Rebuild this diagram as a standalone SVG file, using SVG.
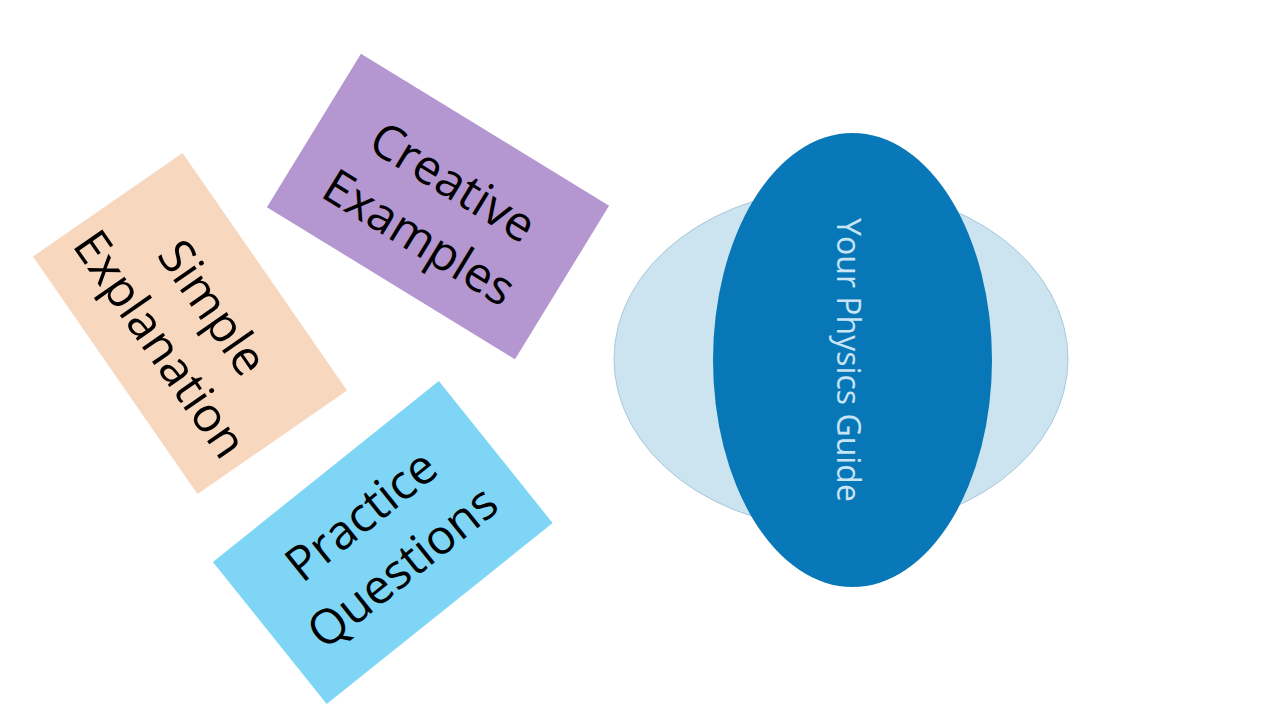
<svg xmlns="http://www.w3.org/2000/svg" width="1280" height="720" viewBox="0 0 1280 720">
<style>
.lbl{font-family:"Open Sans","Liberation Sans",sans-serif;font-size:48px;fill:#000;text-anchor:middle}
.guide{font-family:"Open Sans","Liberation Sans",sans-serif;font-size:32px;fill:#C8E4F5;text-anchor:middle;dominant-baseline:central}
</style>
<rect width="1280" height="720" fill="#FFFFFF"/>
<g id="connectors"></g>
<g id="creative" transform="translate(438,206.5) rotate(31.5)">
<rect x="-145.5" y="-90" width="291" height="180" fill="#B497D0"/>
<text class="lbl" x="0" y="-12">Creative</text>
<text class="lbl" x="0" y="53">Examples</text>
</g>
<g id="simple" transform="translate(190,323.5) rotate(55.3)">
<rect x="-144.5" y="-91" width="289" height="182" fill="#F8D7BF"/>
<text class="lbl" x="0" y="-11">Simple</text>
<text class="lbl" x="0" y="53">Explanation</text>
</g>
<g id="practice" transform="translate(382.75,542.5) rotate(-38.7)">
<rect x="-144.75" y="-91" width="289.5" height="182" fill="#7FD5F6"/>
<text class="lbl" x="0" y="-18">Practice</text>
<text class="lbl" x="0" y="48">Questions</text>
</g>
<g id="guide">
<ellipse cx="841" cy="359" rx="227" ry="171" fill="#CCE3F0" stroke="#A9C8DC" stroke-width="1"/>
<ellipse cx="852.5" cy="360" rx="139.5" ry="227" fill="#0074B6" fill-opacity="0.97"/>
<text class="guide" transform="translate(849,360) rotate(90)" x="0" y="0">Your Physics Guide</text>
</g>
</svg>
